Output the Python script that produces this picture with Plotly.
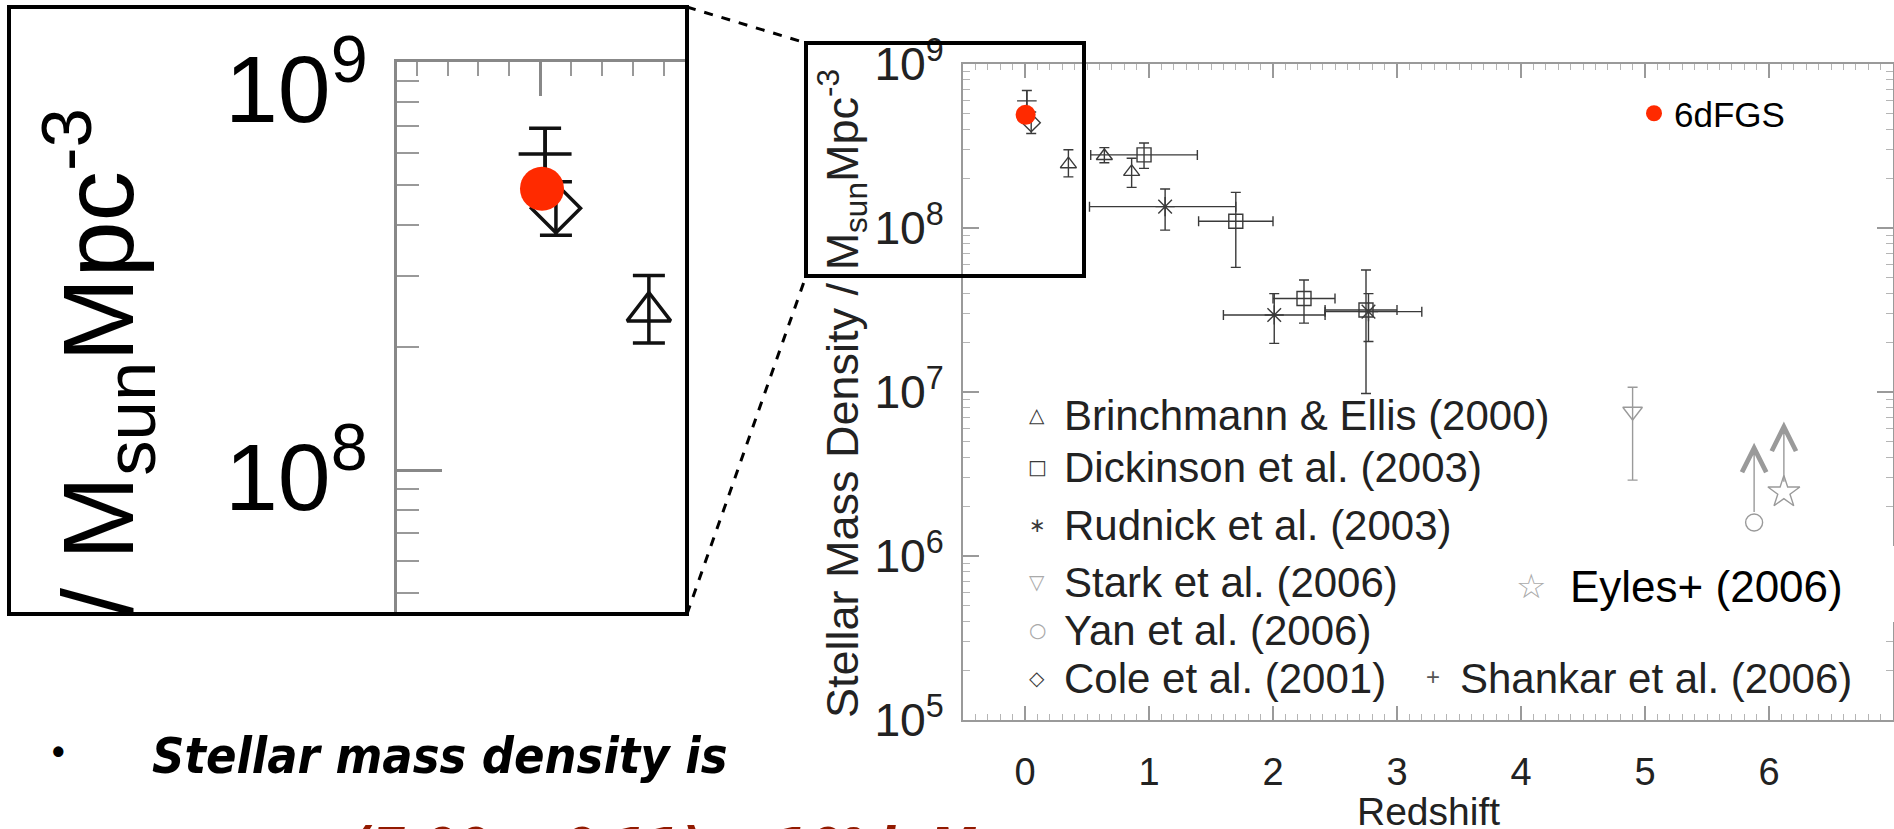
import numpy as np
import plotly.graph_objects as go

W, H = 1894, 829
def X(px): return px / W
def Y(py): return 1 - py / H

SANS = "Liberation Sans, Arial, Helvetica, sans-serif"
SYM = "DejaVu Sans, sans-serif"
NARROW = "Liberation Sans Narrow, DejaVu Sans Condensed, sans-serif"

# ---------------- data (stellar mass density, Msun Mpc^-3) ----------------
be_z   = [0.35, 0.64, 0.86]                      # Brinchmann & Ellis (2000)
be_rho = [2.45e8, 2.75e8, 2.20e8]
be_hi  = [3.00e8, 3.09e8, 2.66e8]
be_lo  = [2.05e8, 2.50e8, 1.77e8]

dk_z   = [0.96, 1.70, 2.25, 2.75]                # Dickinson et al. (2003)
dk_zlo = [0.53, 1.40, 2.00, 2.42]
dk_zhi = [1.39, 2.00, 2.50, 3.00]
dk_rho = [2.79e8, 1.10e8, 3.72e7, 3.16e7]
dk_hi  = [3.30e8, 1.65e8, 4.82e7, 5.55e7]
dk_lo  = [2.31e8, 5.75e7, 2.63e7, 9.8e6]

rd_z   = [1.13, 2.01, 2.77]                      # Rudnick et al. (2003)
rd_zlo = [0.52, 1.60, 2.42]
rd_zhi = [1.70, 2.42, 3.20]
rd_rho = [1.35e8, 2.95e7, 3.09e7]
rd_hi  = [1.73e8, 3.98e7, 3.98e7]
rd_lo  = [9.7e7, 1.98e7, 2.03e7]

st_z, st_rho, st_hi, st_lo = [4.9], [7.6e6], [1.07e7], [2.9e6]     # Stark et al. (2006)
yan_z, yan_rho, yan_tip = [5.88], [1.6e6], [4.9e6]                  # Yan et al. (2006), lower limit
ey_z, ey_rho, ey_tip = [6.12], [2.45e6], [6.6e6]                    # Eyles+ (2006), lower limit
cole_z, cole_rho, cole_hi, cole_lo = [0.05], [4.39e8], [5.10e8], [3.77e8]   # Cole et al. (2001)
sh_z, sh_rho, sh_hi, sh_lo = [0.015], [5.96e8], [6.89e8], [5.00e8]        # Shankar et al. (2006)
six_z, six_rho = [0.005], [4.9e8]                                         # 6dFGS

x_ticks = [0, 1, 2, 3, 4, 5, 6]
legend_labels = ["Brinchmann & Ellis (2000)", "Dickinson et al. (2003)", "Rudnick et al. (2003)",
                 "Stark et al. (2006)", "Yan et al. (2006)", "Cole et al. (2001)"]
legend_syms = ["\u25B3", "\u25A1", "\u2217", "\u25BD", "\u25CB", "\u25C7"]

def up(v, hi): return [h - a for a, h in zip(v, hi)]
def dn(v, lo): return [a - l for a, l in zip(v, lo)]

DARK = "#3a3a3a"
GREY = "#9a9a9a"
RED = "#FF2A00"

fig = go.Figure()

def ey(v, hi, lo, th, w, c):
    return dict(type="data", symmetric=False, array=up(v, hi), arrayminus=dn(v, lo),
                thickness=th, width=w, color=c)

def add_set(xa, ya, k, col, th, cap, lw, full=True):
    def mk(sym, size, c=col):
        return dict(symbol=sym, size=size * k, color=c, line=dict(color=c, width=lw))
    fig.add_trace(go.Scatter(x=be_z, y=be_rho, mode="markers", xaxis=xa, yaxis=ya, showlegend=False,
                             marker=mk("triangle-up-open", 14), error_y=ey(be_rho, be_hi, be_lo, th, cap, col)))
    if full:
        fig.add_trace(go.Scatter(x=dk_z, y=dk_rho, mode="markers", xaxis=xa, yaxis=ya, showlegend=False,
                                 marker=mk("square-open", 14),
                                 error_y=ey(dk_rho, dk_hi, dk_lo, th, cap, col),
                                 error_x=dict(type="data", symmetric=False, array=up(dk_z, dk_zhi),
                                              arrayminus=dn(dk_z, dk_zlo), thickness=th, width=cap, color=col)))
        fig.add_trace(go.Scatter(x=rd_z, y=rd_rho, mode="markers", xaxis=xa, yaxis=ya, showlegend=False,
                                 marker=mk("asterisk-open", 16),
                                 error_y=ey(rd_rho, rd_hi, rd_lo, th, cap, col),
                                 error_x=dict(type="data", symmetric=False, array=up(rd_z, rd_zhi),
                                              arrayminus=dn(rd_z, rd_zlo), thickness=th, width=cap, color=col)))
        fig.add_trace(go.Scatter(x=st_z, y=st_rho, mode="markers", xaxis=xa, yaxis=ya, showlegend=False,
                                 marker=mk("triangle-down-open", 17, GREY),
                                 error_y=ey(st_rho, st_hi, st_lo, th, cap, GREY)))
        fig.add_trace(go.Scatter(x=yan_z, y=yan_rho, mode="markers", xaxis=xa, yaxis=ya, showlegend=False,
                                 marker=mk("circle-open", 17, GREY)))
        fig.add_trace(go.Scatter(x=ey_z, y=ey_rho, mode="markers", xaxis=xa, yaxis=ya, showlegend=False,
                                 marker=mk("star-open", 24, GREY)))
    fig.add_trace(go.Scatter(x=cole_z, y=cole_rho, mode="markers", xaxis=xa, yaxis=ya, showlegend=False,
                             marker=mk("diamond-open", 14), error_y=ey(cole_rho, cole_hi, cole_lo, th, cap, col)))
    fig.add_trace(go.Scatter(x=sh_z, y=sh_rho, mode="markers", xaxis=xa, yaxis=ya, showlegend=False,
                             marker=mk("cross-thin-open", 14), error_y=ey(sh_rho, sh_hi, sh_lo, th, cap, col)))

# main plot
add_set("x", "y", 1.0, DARK, 1.4, 5, 1.4, full=True)
fig.add_trace(go.Scatter(x=six_z, y=six_rho, mode="markers", xaxis="x", yaxis="y", name="6dFGS",
                         showlegend=True, marker=dict(size=20, color=RED)))
# inset (magnified)
add_set("x2", "y2", 2.7, "#111111", 3.5, 16, 3.5, full=False)
fig.add_trace(go.Scatter(x=six_z, y=six_rho, mode="markers", xaxis="x2", yaxis="y2", showlegend=False,
                         marker=dict(size=44, color=RED)))

ann = []
# lower-limit arrows
for zz, r0, tip in [(yan_z[0], yan_rho[0], yan_tip[0]), (ey_z[0], ey_rho[0], ey_tip[0])]:
    ann.append(dict(x=zz, y=np.log10(tip), ax=zz, ay=np.log10(r0), xref="x", yref="y", axref="x", ayref="y",
                    showarrow=True, arrowhead=5, arrowsize=3.4, arrowwidth=1.4, arrowcolor=GREY,
                    startstandoff=9, text=""))

# legend (in-plot text)
rows_y = [415, 467, 525, 582, 630, 678]
sym_cols = [DARK, DARK, DARK, "#aaaaaa", "#aaaaaa", DARK]
for lab, sym, yy, sc in zip(legend_labels, legend_syms, rows_y, sym_cols):
    ann.append(dict(x=X(1037), y=Y(yy), xref="paper", yref="paper", text=sym, showarrow=False,
                    font=dict(family=SYM, size=20, color=sc), xanchor="center", yanchor="middle"))
    ann.append(dict(x=X(1062), y=Y(yy), xref="paper", yref="paper", text=lab, showarrow=False,
                    font=dict(family=SANS, size=42, color="#222"), xanchor="left", yanchor="middle"))
ann.append(dict(x=X(1433), y=Y(676), xref="paper", yref="paper", text="+", showarrow=False,
                font=dict(family=SANS, size=24, color="#555"), xanchor="center", yanchor="middle"))
ann.append(dict(x=X(1458), y=Y(678), xref="paper", yref="paper", text="Shankar et al. (2006)", showarrow=False,
                font=dict(family=SANS, size=42, color="#222"), xanchor="left", yanchor="middle"))
ann.append(dict(x=X(1531), y=Y(586), xref="paper", yref="paper", text="\u2606", showarrow=False,
                font=dict(family=SYM, size=34, color="#aaaaaa"), xanchor="center", yanchor="middle"))
ann.append(dict(x=X(1568), y=Y(586), xref="paper", yref="paper", text="Eyles+ (2006)", showarrow=False,
                font=dict(family=SANS, size=44, color="black"), xanchor="left", yanchor="middle"))

# axis titles
ann.append(dict(x=X(1428), y=Y(811), xref="paper", yref="paper", text="Redshift", showarrow=False,
                font=dict(family=SANS, size=39, color="#222"), xanchor="center", yanchor="middle"))
ann.append(dict(x=X(842), y=Y(394), xref="paper", yref="paper",
                text="Stellar Mass Density / M<sub>sun</sub>Mpc<sup>-3</sup>", textangle=-90,
                showarrow=False, font=dict(family=SANS, size=45, color="#222"),
                xanchor="center", yanchor="middle"))
# inset labels
ann.append(dict(x=X(98), y=Y(362), xref="paper", yref="paper",
                text="/ M<sub>sun</sub>Mpc<sup>-3</sup>", textangle=-90,
                showarrow=False, font=dict(family=SANS, size=101, color="black"),
                xanchor="center", yanchor="middle"))
ann.append(dict(x=X(370), y=9, xref="paper", yref="y2", yshift=-20, text="10<sup>9</sup>", showarrow=False,
                font=dict(family=SANS, size=95, color="black"), xanchor="right", yanchor="middle"))
ann.append(dict(x=X(370), y=8, xref="paper", yref="y2", text="10<sup>8</sup>", showarrow=False,
                font=dict(family=SANS, size=95, color="black"), xanchor="right", yanchor="middle"))

# slide text
ann.append(dict(x=X(58), y=Y(751), xref="paper", yref="paper", text="<b>\u2022</b>", showarrow=False,
                font=dict(family=SANS, size=36, color="black"), xanchor="center", yanchor="middle"))
ann.append(dict(x=X(150), y=Y(756), xref="paper", yref="paper", text="<b><i>Stellar mass density is</i></b>",
                showarrow=False, font=dict(family=NARROW, size=50, color="black"),
                xanchor="left", yanchor="middle"))
ann.append(dict(x=X(348), y=Y(815), xref="paper", yref="paper",
                text="<b><i>(7.00 \u00B1 0.11) \u00D7 10\u2078 h M<sub>\u2299</sub></i></b>",
                showarrow=False, font=dict(family=NARROW, size=53, color="#921A00"),
                xanchor="left", yanchor="top"))

shapes = [
    # white patch behind Eyles label
    dict(type="rect", xref="paper", yref="paper", x0=X(1515), x1=1, y0=Y(622), y1=Y(546),
         line=dict(width=0), fillcolor="white", layer="above"),
    # inset frame
    dict(type="rect", xref="paper", yref="paper", x0=X(9), x1=X(687), y0=Y(614), y1=Y(7),
         line=dict(color="black", width=4), layer="above"),
    # zoom box in main plot
    dict(type="rect", xref="paper", yref="paper", x0=X(806), x1=X(1084), y0=Y(276), y1=Y(43),
         line=dict(color="black", width=4), layer="above"),
    # connecting dashed lines
    dict(type="line", xref="paper", yref="paper", x0=X(687), y0=Y(7), x1=X(806), y1=Y(43),
         line=dict(color="black", width=3, dash="dash"), layer="above"),
    dict(type="line", xref="paper", yref="paper", x0=X(687), y0=Y(614), x1=X(806), y1=Y(276),
         line=dict(color="black", width=3, dash="dash"), layer="above"),
]

AX = "#9a9a9a"
fig.update_layout(
    width=W, height=H, margin=dict(l=0, r=0, t=0, b=0, pad=0, autoexpand=False),
    paper_bgcolor="white", plot_bgcolor="white",
    annotations=ann, shapes=shapes,
    legend=dict(x=X(1634), y=Y(84), xanchor="left", yanchor="top", bgcolor="rgba(0,0,0,0)",
                font=dict(family=SANS, size=35, color="black"), itemwidth=30),
    xaxis=dict(domain=[X(963), X(1893)], anchor="y", range=[-0.5, 7.0], tickmode="array", tickvals=x_ticks,
               ticks="inside", ticklen=14, tickwidth=1.5, tickcolor=AX, showline=True, linecolor=AX,
               linewidth=1.5, mirror="allticks", showgrid=False, zeroline=False, automargin=False,
               minor=dict(tick0=0, dtick=0.1, ticks="inside", ticklen=6, tickwidth=1, tickcolor="#b5b5b5"),
               tickfont=dict(family=SANS, size=38, color="#222"), ticklabelstandoff=18),
    yaxis=dict(domain=[Y(720), Y(64)], anchor="x", type="log", range=[5, 9], dtick=1,
               exponentformat="power", ticks="inside", ticklen=16, tickwidth=1.5, tickcolor=AX,
               showline=True, linecolor=AX, linewidth=1.5, mirror="allticks", showgrid=False,
               zeroline=False, automargin=False,
               minor=dict(dtick="D1", ticks="inside", ticklen=7, tickwidth=1, tickcolor="#b5b5b5"),
               tickfont=dict(family=SANS, size=37, color="#222"), ticklabelstandoff=10),
    xaxis2=dict(domain=[X(397), X(687)], anchor="y2", side="top", range=[-0.463, 0.473],
                tickmode="array", tickvals=[0], ticks="inside", ticklen=34, tickwidth=2.5, tickcolor="#888",
                showline=True, linecolor="#888", linewidth=3, showticklabels=False, showgrid=False,
                zeroline=False, automargin=False,
                minor=dict(tick0=0, dtick=0.1, ticks="inside", ticklen=14, tickwidth=2, tickcolor="#999")),
    yaxis2=dict(domain=[Y(614), Y(62)], anchor="x2", type="log", range=[7.647, 9.001], dtick=1,
                ticks="inside", ticklen=45, tickwidth=2.5, tickcolor="#888", showline=True,
                linecolor="#888", linewidth=3, showticklabels=False, showgrid=False, zeroline=False,
                automargin=False,
                minor=dict(dtick="D1", ticks="inside", ticklen=22, tickwidth=2, tickcolor="#999")),
)

fig.write_html("out.html", config={"displayModeBar": False},
               post_script="document.body.style.margin='0px';")
